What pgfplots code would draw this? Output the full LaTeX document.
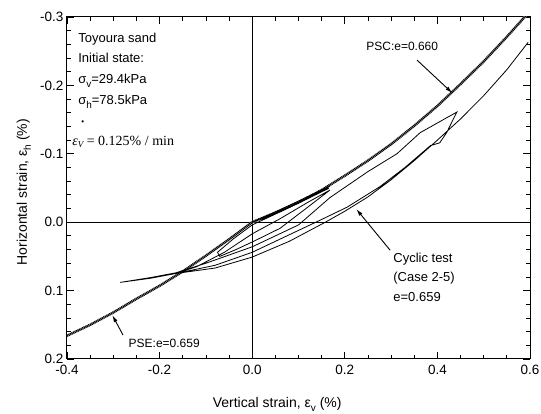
\documentclass[border=0pt]{standalone}
\usepackage{pgfplots}
\pgfplotsset{compat=1.18}
\usepackage{fontspec}
\setmainfont{Liberation Sans}
\newfontfamily\serif{Liberation Serif}
\usetikzlibrary{arrows.meta}
\newcommand{\sub}[1]{\raisebox{-4bp}{\fontsize{10bp}{10bp}\selectfont #1}}
\begin{document}
\begin{tikzpicture}
\begin{axis}[name=ax, at={(0,0)}, anchor=south west,
  scale only axis, width=463bp, height=342bp,
  xmin=-0.4, xmax=0.6, ymin=-0.3, ymax=0.2, y dir=reverse,
  xtick={-0.4,-0.2,0,0.2,0.4,0.6}, xticklabels={-0.4,-0.2,0.0,0.2,0.4,0.6},
  ytick={-0.3,-0.2,-0.1,0,0.1,0.2}, yticklabels={-0.3,-0.2,-0.1,0.0,0.1,0.2},
  minor x tick num=3, minor y tick num=4,
  tick align=inside, major tick length=7bp, minor tick length=4bp,
  tick style={black, line width=0.8bp},
  axis line style={line width=1bp},
  ticklabel style={font=\fontsize{13.5bp}{15bp}\selectfont},
  xticklabel style={yshift=-3bp},
  xlabel={Vertical strain, ε\sub{v} (\%)},
  ylabel={Horizontal strain, ε\sub{h} (\%)},
  xlabel style={at={(axis description cs:0.454,0)}, anchor=base, yshift=-49bp, font=\fontsize{14bp}{16bp}\selectfont},
  ylabel style={at={(axis description cs:0,0.488)}, anchor=base, yshift=40bp, font=\fontsize{14bp}{16bp}\selectfont},
]
\draw[line width=0.9bp] (axis cs:0,-0.3) -- (axis cs:0,0.2);
\draw[line width=0.9bp] (axis cs:-0.4,0) -- (axis cs:0.6,0);
% PSE / PSC monotonic tests
\pgfplotstableread{
x y
-0.4 0.166
-0.35 0.150
-0.3 0.132
-0.25 0.112
-0.2 0.093
-0.15 0.072
-0.1 0.049
-0.05 0.025
0 0
0.05 -0.014
0.1 -0.029
0.15 -0.047
0.2 -0.068
0.25 -0.090
0.3 -0.114
0.35 -0.141
0.4 -0.170
0.45 -0.202
0.5 -0.235
0.55 -0.271
0.595 -0.305
}\mono
\addplot[gray!45, line width=2.4bp] table[x=x,y=y] {\mono};
\addplot[black, line width=2.4bp, dash pattern=on 1bp off 0.7bp] table[x=x,y=y] {\mono};
% cyclic test
\addplot[black, line width=0.8bp] table {
0 0
0.05 -0.015
0.1 -0.031
0.168 -0.053
0.12 -0.035
0.06 -0.015
0 0.004
-0.04 0.024
-0.075 0.044
-0.07 0.050
-0.035 0.040
0 0.029
0.06 0.009
0.12 -0.022
0.168 -0.047
0.12 -0.029
0.06 -0.005
0 0.017
-0.06 0.044
-0.12 0.065
-0.165 0.075
-0.22 0.082
-0.285 0.088
-0.22 0.081
-0.165 0.074
-0.1 0.060
0 0.036
0.1 0.004
0.168 -0.036
0.25 -0.074
0.3125 -0.100
0.363 -0.131
0.442 -0.161
0.42 -0.131
0.405 -0.116
0.385 -0.112
0.33 -0.080
0.276 -0.052
0.205 -0.022
0.15 -0.004
0.1 0.012
0 0.044
-0.08 0.063
-0.165 0.075
-0.08 0.067
0 0.051
0.08 0.028
0.158 0.0
0.2 -0.016
0.25 -0.037
0.3 -0.062
0.35 -0.09
0.4 -0.12
0.45 -0.151
0.5 -0.185
0.55 -0.223
0.596 -0.263
};
\addplot[black, line width=1.6bp] table {
0.02 -0.004
0.08 -0.022
0.165 -0.050
};
% annotations
\node[anchor=north west, align=left, inner sep=0pt, font=\fontsize{13bp}{20.6bp}\selectfont] at (axis cs:-0.376,-0.277)
 {Toyoura sand\\Initial state:\\σ\sub{v}=29.4kPa\\σ\sub{h}=78.5kPa\\\hspace*{3bp}{\fontsize{8bp}{8bp}\selectfont\textbullet}\\\hspace*{-6bp}{\serif\fontsize{14bp}{16bp}\selectfont\itshape ε\raisebox{-2bp}{\fontsize{9bp}{9bp}\selectfont V} \upshape = 0.125\% / min}};
\node[anchor=north west, align=left, inner sep=0pt, font=\fontsize{13bp}{19.5bp}\selectfont] at (axis cs:0.3045,0.0446)
 {Cyclic test\\(Case 2-5)\\e=0.659};
\node[anchor=base, inner sep=0pt, font=\fontsize{12bp}{14bp}\selectfont] at (axis cs:0.324,-0.2515) {PSC:e=0.660};
\node[anchor=base, inner sep=0pt, font=\fontsize{12bp}{14bp}\selectfont] at (axis cs:-0.190,0.183) {PSE:e=0.659};
\draw[line width=0.9bp, -{Latex[length=7bp,width=4bp]}] (axis cs:0.356,-0.237) -- (axis cs:0.432,-0.189);
\draw[line width=0.9bp, -{Latex[length=7bp,width=4bp]}] (axis cs:0.298,0.041) -- (axis cs:0.225,-0.019);
\draw[line width=0.9bp, -{Latex[length=7bp,width=4bp]}] (axis cs:-0.279,0.165) -- (axis cs:-0.302,0.136);
\end{axis}
\pgfresetboundingbox
\path ([shift={(-67bp,-55bp)}]ax.south west) rectangle ([shift={(11bp,17bp)}]ax.north east);
\end{tikzpicture}
\end{document}
